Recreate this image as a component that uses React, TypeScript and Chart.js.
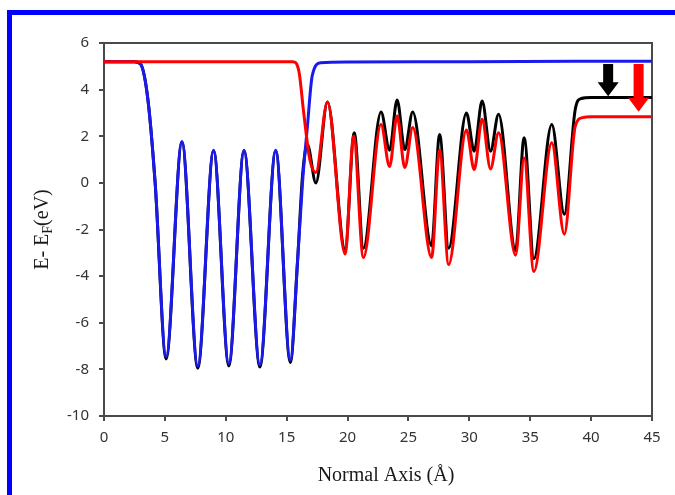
import React, { useEffect, useRef } from "react";
import { Chart, registerables } from "chart.js";

Chart.register(...registerables);

// ---- data ----
const blueX = [0, 2.5, 3.0, 3.6, 4.2, 5.1, 6.4, 7.7, 9.0, 10.25, 11.5, 12.8, 14.1, 15.3, 15.9, 16.3, 16.7, 17.1, 17.8, 20, 30, 45];
const blueY = [5.2, 5.2, 5.1, 3.6, 0, -7.45, 1.78, -7.85, 1.4, -7.75, 1.4, -7.8, 1.4, -7.6, -3.3, 0, 2.4, 4.6, 5.15, 5.18, 5.2, 5.22];

const blackX = [0, 2.5, 3.0, 3.6, 4.2, 5.1, 6.4, 7.7, 9.0, 10.25, 11.5, 12.8, 14.1, 15.3, 15.9, 16.3, 16.7, 17.4, 18.35, 19.8, 20.55, 21.3, 22.75, 23.45, 24.07, 24.7, 25.35, 26.9, 27.56, 28.3, 29.76, 30.4, 31.05, 31.74, 32.4, 33.8, 34.5, 35.3, 36.77, 37.8, 38.7, 39.2, 40, 45];
const blackY = [5.2, 5.2, 5.1, 3.6, 0, -7.55, 1.75, -7.95, 1.38, -7.85, 1.38, -7.9, 1.38, -7.7, -3.3, 0.3, 1.65, 0.0, 3.47, -2.85, 2.15, -2.8, 3.04, 1.4, 3.56, 1.43, 3.04, -2.7, 2.08, -2.8, 3.0, 1.36, 3.51, 1.36, 2.94, -2.9, 1.94, -3.25, 2.5, -1.35, 3.16, 3.62, 3.66, 3.66];

const redX = [0, 15.5, 16.0, 16.4, 16.9, 17.4, 18.35, 19.8, 20.5, 21.3, 22.75, 23.45, 24.07, 24.7, 25.35, 26.9, 27.56, 28.3, 29.76, 30.4, 31.05, 31.74, 32.4, 33.8, 34.5, 35.3, 36.77, 37.8, 38.7, 39.3, 40, 45];
const redY = [5.2, 5.2, 4.8, 3.0, 1.0, 0.45, 3.47, -3.05, 2.0, -3.2, 2.5, 0.7, 2.87, 0.66, 2.37, -3.2, 1.4, -3.5, 2.27, 0.57, 2.73, 0.6, 2.15, -3.1, 1.07, -3.8, 1.72, -2.2, 2.44, 2.8, 2.84, 2.84];

// arrows (annotations)
const arrowX = [41.4, 43.9];
const arrowFromY = [5.1, 5.1];
const arrowToY = [3.72, 3.05];
const arrowColors = ["#000000", "#ff0000"];

const xTitle = "Normal Axis (Å)";
const yTitleParts = ["E- E", "F", "(eV)"];

const zip = (xs: number[], ys: number[]) => xs.map((x, i) => ({ x, y: ys[i] }));

const framePlugin = {
  id: "frameAndTitles",
  beforeDatasetsDraw(chart: any) {
    const { ctx, chartArea: a } = chart;
    ctx.save();
    ctx.strokeStyle = "#4a4a4a";
    ctx.lineWidth = 2;
    ctx.strokeRect(a.left, a.top, a.right - a.left, a.bottom - a.top);
    ctx.restore();
  },
  afterDatasetsDraw(chart: any) {
    const { ctx, scales } = chart;
    const xs = scales.x, ys = scales.y;
    arrowX.forEach((xv, i) => {
      const px = xs.getPixelForValue(xv);
      const y0 = ys.getPixelForValue(arrowFromY[i]);
      const y1 = ys.getPixelForValue(arrowToY[i]);
      const headH = 14;
      const shaftW = 10;
      const headW = 21;
      ctx.save();
      ctx.fillStyle = arrowColors[i];
      ctx.beginPath();
      ctx.moveTo(px - shaftW / 2, y0);
      ctx.lineTo(px + shaftW / 2, y0);
      ctx.lineTo(px + shaftW / 2, y1 - headH);
      ctx.lineTo(px + headW / 2, y1 - headH);
      ctx.lineTo(px, y1);
      ctx.lineTo(px - headW / 2, y1 - headH);
      ctx.lineTo(px - shaftW / 2, y1 - headH);
      ctx.closePath();
      ctx.fill();
      ctx.restore();
    });
  },
  afterDraw(chart: any) {
    const { ctx, chartArea: a } = chart;
    ctx.save();
    ctx.fillStyle = "#1a1a1a";
    ctx.font = "20px 'Liberation Serif', serif";
    ctx.textAlign = "center";
    ctx.textBaseline = "middle";
    ctx.fillText(xTitle, (a.left + a.right) / 2 + 8, 476);
    ctx.translate(43, (a.top + a.bottom) / 2);
    ctx.rotate(-Math.PI / 2);
    const big = "20px 'Liberation Serif', serif";
    const small = "14px 'Liberation Serif', serif";
    ctx.font = big;
    const w0 = ctx.measureText(yTitleParts[0]).width;
    const w2 = ctx.measureText(yTitleParts[2]).width;
    ctx.font = small;
    const w1 = ctx.measureText(yTitleParts[1]).width;
    const total = w0 + w1 + w2;
    let x = -total / 2;
    ctx.textAlign = "left";
    ctx.font = big;
    ctx.fillText(yTitleParts[0], x, 0);
    x += w0;
    ctx.font = small;
    ctx.fillText(yTitleParts[1], x, 5);
    x += w1;
    ctx.font = big;
    ctx.fillText(yTitleParts[2], x, 0);
    ctx.restore();
  },
};

export default function App() {
  const ref = useRef<HTMLCanvasElement>(null);
  useEffect(() => {
    if (!ref.current) return;
    const tickFont = { family: "'Noto Sans', sans-serif", size: 15 };
    const chart = new Chart(ref.current, {
      type: "line",
      data: {
        datasets: [
          { label: "black", data: zip(blackX, blackY), borderColor: "#000000", borderWidth: 3, pointRadius: 0, cubicInterpolationMode: "monotone", order: 3 },
          { label: "blue", data: zip(blueX, blueY), borderColor: "#1a1aee", borderWidth: 3, pointRadius: 0, cubicInterpolationMode: "monotone", order: 2 },
          { label: "red", data: zip(redX, redY), borderColor: "#ff0000", borderWidth: 3, pointRadius: 0, cubicInterpolationMode: "monotone", order: 1 },
        ],
      },
      options: {
        animation: false,
        responsive: false,
        layout: { padding: { top: 43, right: 23, left: 0, bottom: 0 } },
        plugins: { legend: { display: false }, tooltip: { enabled: false } },
        scales: {
          x: {
            type: "linear",
            min: 0,
            max: 45,
            ticks: { stepSize: 5, color: "#333", font: tickFont, padding: 8, maxRotation: 0 },
            grid: { drawOnChartArea: false, drawTicks: true, tickLength: 5, color: "#4a4a4a", lineWidth: 2 },
            border: { display: false },
            afterFit: (s: any) => { s.height = 79; },
          },
          y: {
            type: "linear",
            min: -10,
            max: 6,
            ticks: { stepSize: 2, color: "#333", font: tickFont, padding: 10 },
            grid: { drawOnChartArea: false, drawTicks: true, tickLength: 5, color: "#4a4a4a", lineWidth: 2 },
            border: { display: false },
            afterFit: (s: any) => { s.width = 104; },
          },
        },
      },
      plugins: [framePlugin],
    } as any);
    return () => chart.destroy();
  }, []);

  return (
    <div style={{ position: "absolute", left: 0, top: 0, width: 675, height: 495, overflow: "hidden", background: "#fff" }}>
      <div style={{ position: "absolute", left: 7, top: 10, width: 720, height: 600, border: "5px solid #0000ff", boxSizing: "border-box" }} />
      <canvas ref={ref} width={675} height={495} style={{ position: "absolute", left: 0, top: 0 }} />
    </div>
  );
}
